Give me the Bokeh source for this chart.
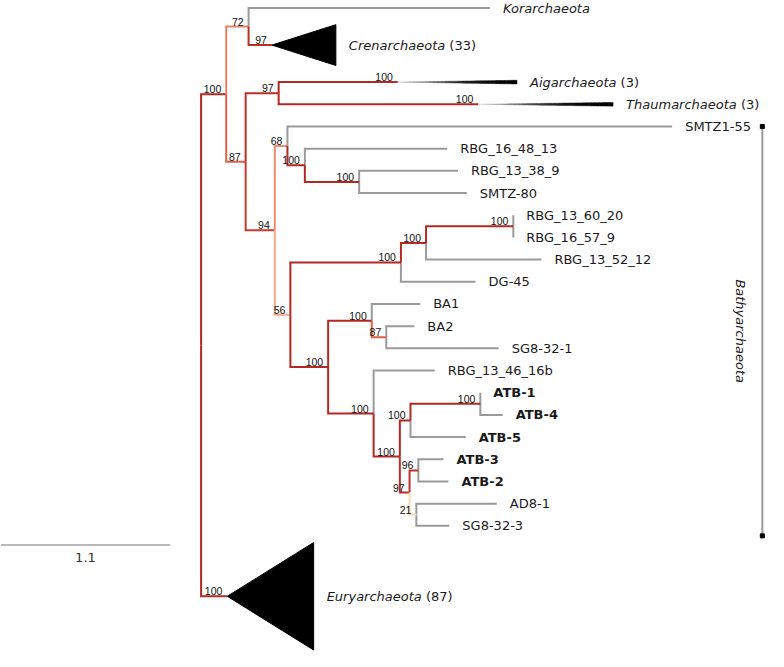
import numpy as np
from bokeh.plotting import figure
from bokeh.models import Range1d, ColumnDataSource
from bokeh.core.properties import value
from bokeh.embed import file_html
from bokeh.resources import INLINE

# ---------------- data: tree (children listed in drawing order) ----------------
node_names = ["root", "A", "Euryarchaeota", "N72", "Korarchaeota", "Crenarchaeota",
              "N87", "N97a", "Aigarchaeota", "Thaumarchaeota", "N94", "N68", "SMTZ1-55",
              "N100a", "RBG_16_48_13", "N100b", "RBG_13_38_9", "SMTZ-80", "N56", "N100c",
              "N100d", "N100e", "RBG_13_60_20", "RBG_16_57_9", "RBG_13_52_12", "DG-45",
              "N100f", "N100g", "BA1", "N87b", "BA2", "SG8-32-1", "N100h", "RBG_13_46_16b",
              "N100i", "N100j", "N100k", "ATB-1", "ATB-4", "ATB-5", "N97b", "N96", "ATB-3",
              "ATB-2", "N21", "AD8-1", "SG8-32-3"]
node_parents = [None, "root", "root", "A", "N72", "N72",
                "A", "N87", "N97a", "N97a", "N87", "N94", "N68",
                "N68", "N100a", "N100a", "N100b", "N100b", "N94", "N56",
                "N100c", "N100d", "N100e", "N100e", "N100d", "N100c",
                "N56", "N100f", "N100g", "N100g", "N87b", "N87b", "N100f", "N100h",
                "N100h", "N100i", "N100j", "N100k", "N100k", "N100j", "N100i", "N97b", "N96",
                "N96", "N97b", "N21", "N21"]
branch_lengths = [0.0, 0.163, 0.170, 0.145, 1.565, 0.151,
                  0.126, 0.214, 0.773, 1.295, 0.189, 0.082, 2.495,
                  0.113, 0.924, 0.352, 0.641, 0.698, 0.101, 0.717,
                  0.163, 0.566, 0.0, 0.0, 0.748, 0.484,
                  0.245, 0.283, 0.314, 0.094, 0.182, 0.729, 0.295, 0.396,
                  0.170, 0.069, 0.453, 0.0, 0.145, 0.358, 0.063, 0.057, 0.163,
                  0.195, 0.044, 0.522, 0.214]
node_support = [None, 100, 100, 72, None, 97,
                87, 97, 100, 100, 94, 68, None,
                100, None, 100, None, None, 56, 100,
                100, 100, None, None, None, None,
                100, 100, None, 87, None, None, 100, None,
                100, 100, 100, None, None, None, 97, 96, None,
                None, 21, None, None]

# collapsed clades
clade_names = ["Crenarchaeota", "Aigarchaeota", "Thaumarchaeota", "Euryarchaeota"]
clade_sizes = [33, 3, 3, 87]
clade_depths = [0.415, 0.773, 0.874, 0.560]

italic_leaves = ["Korarchaeota"]
bold_leaves = ["ATB-1", "ATB-2", "ATB-3", "ATB-4", "ATB-5"]
group_name = "Bathyarchaeota"
group_span = ["SMTZ1-55", "SG8-32-3"]
scale_length = 1.1

# ---------------- layout ----------------
children = {n: [] for n in node_names}
for n, par in zip(node_names, node_parents):
    if par is not None:
        children[par].append(n)
blen = dict(zip(node_names, branch_lengths))
supp = dict(zip(node_names, node_support))
clade_n = dict(zip(clade_names, clade_sizes))
clade_d = dict(zip(clade_names, clade_depths))

ROW_PER_TAXON = 0.0557


def slot(n):
    if n in clade_n:
        return max(1.0, clade_n[n] * ROW_PER_TAXON + 0.5)
    return 1.0


depth, row = {}, {}
cursor = [None, None]


def layout(n, d):
    depth[n] = d
    if children[n]:
        for c in children[n]:
            layout(c, d + blen[c])
        row[n] = (row[children[n][0]] + row[children[n][-1]]) / 2
    else:
        s = slot(n)
        row[n] = 0.0 if cursor[0] is None else cursor[0] + (cursor[1] + s) / 2
        cursor[0], cursor[1] = row[n], s


layout("root", 0.0)

anchor_s = [20, 56, 70, 87, 95, 100]
anchor_rgb = [(250, 220, 182), (245, 170, 130), (238, 136, 102), (220, 98, 74), (192, 54, 44), (178, 40, 34)]


def support_color(s):
    r = np.interp(s, anchor_s, [c[0] for c in anchor_rgb])
    g = np.interp(s, anchor_s, [c[1] for c in anchor_rgb])
    b = np.interp(s, anchor_s, [c[2] for c in anchor_rgb])
    return "#%02x%02x%02x" % (int(r), int(g), int(b))


GREY = "#9a9a9a"

# ---------------- figure ----------------
p = figure(width=768, height=651, x_range=Range1d(-1.301, 3.68), y_range=Range1d(29.0, -0.34),
           output_backend="svg", toolbar_location=None, x_axis_type=None, y_axis_type=None,
           min_border=0)
p.grid.visible = False
p.outline_line_color = None
p.background_fill_color = "white"

# branches
bx, by, bc = [], [], []
for n, par in zip(node_names, node_parents):
    if par is None:
        continue
    is_leaf = (not children[n]) and (n not in clade_n)
    bx.append([depth[par], depth[par], depth[n]])
    by.append([row[par], row[n], row[n]])
    bc.append(GREY if is_leaf else support_color(supp[n]))
order = sorted(range(len(bc)), key=lambda i: bc[i] != GREY)
p.multi_line(xs=[bx[i] for i in order], ys=[by[i] for i in order], line_color=[bc[i] for i in order],
             line_width=2, line_join="miter")

# collapsed clade triangles
for n in clade_names:
    x0, y0 = depth[n], row[n]
    x1 = x0 + clade_d[n]
    h = clade_n[n] * ROW_PER_TAXON / 2
    if clade_n[n] > 5:
        p.patch([x0, x1, x1], [y0, y0 - h, y0 + h], fill_color="black", line_color="black", line_width=1)
    else:
        k = 30
        xs, ys, cols = [], [], []
        for i in range(k):
            a, b = i / k, (i + 1) / k
            xa, xb = x0 + a * clade_d[n], x0 + b * clade_d[n]
            ha, hb = max(h * a, 0.012), max(h * b, 0.012)
            xs.append([xa, xb, xb, xa])
            ys.append([y0 - ha, y0 - hb, y0 + hb, y0 + ha])
            t = 1 - (1 - b) ** 2.2
            c = int(235 * (1 - t))
            cols.append("#%02x%02x%02x" % (c, c, c))
        p.patches(xs, ys, fill_color=cols, line_color=cols, line_width=0.5)

# ---------------- labels ----------------
FS = 13
W = {'a': .613, 'b': .635, 'c': .550, 'd': .635, 'e': .615, 'g': .635, 'h': .634, 'i': .278, 'k': .579,
     'l': .278, 'm': .974, 'n': .634, 'o': .612, 'p': .635, 'r': .411, 's': .521, 't': .392, 'u': .634,
     'y': .592, 'A': .684, 'C': .698, 'E': .632, 'K': .656, 'T': .611, ' ': .318}


def text_w(s, size):
    return sum(W.get(ch, 0.6) for ch in s) * size


FONT = value("DejaVu Sans")
leaves = [n for n in node_names if not children[n]]
normal_src = dict(x=[], y=[], t=[])
bold_src = dict(x=[], y=[], t=[])
ital_src = dict(x=[], y=[], t=[])
count_src = dict(x=[], y=[], t=[], off=[])
for n in leaves:
    xe = depth[n] + clade_d.get(n, 0.0)
    if n in clade_n:
        ital_src["x"].append(xe); ital_src["y"].append(row[n]); ital_src["t"].append(n)
        count_src["x"].append(xe); count_src["y"].append(row[n]); count_src["t"].append("(%d)" % clade_n[n])
        count_src["off"].append(13 + text_w(n + " ", FS))
    elif n in italic_leaves:
        ital_src["x"].append(xe); ital_src["y"].append(row[n]); ital_src["t"].append(n)
    elif n in bold_leaves:
        bold_src["x"].append(xe); bold_src["y"].append(row[n]); bold_src["t"].append(n)
    else:
        normal_src["x"].append(xe); normal_src["y"].append(row[n]); normal_src["t"].append(n)

common = dict(x="x", y="y", text="t", text_font=FONT, text_font_size="%.1fpx" % FS, text_baseline="middle",
              text_align="left", text_color="#1a1a1a")
p.text(source=ColumnDataSource(normal_src), x_offset=13, **common)
p.text(source=ColumnDataSource(bold_src), x_offset=13, text_font_style="bold", **common)
p.text(source=ColumnDataSource(ital_src), x_offset=13, text_font_style="italic", **common)
p.text(source=ColumnDataSource(count_src), x_offset="off", **common)

# support values
sx = [depth[n] for n in node_names if supp[n] is not None]
sy = [row[n] for n in node_names if supp[n] is not None]
st = [str(supp[n]) for n in node_names if supp[n] is not None]
p.text(x=sx, y=sy, text=st, x_offset=-5, y_offset=-1, text_font=value("Liberation Sans"),
       text_font_size="10.5px", text_align="right", text_baseline="bottom", text_color="#111111")

# Bathyarchaeota bracket
bxp = 3.64
yb0, yb1 = row[group_span[0]], row[group_span[1]] + 0.45
p.line([bxp, bxp], [yb0, yb1], line_color=GREY, line_width=2)
p.scatter([bxp, bxp], [yb0, yb1], marker="square", size=4, color="black")
p.text(x=[3.50], y=[(yb0 + yb1) / 2], text=[group_name], angle=-np.pi / 2, text_font=FONT,
       text_font_size="%.1fpx" % FS, text_font_style="italic", text_align="center", text_baseline="middle",
       text_color="#1a1a1a")

# scale bar
sb_x0, sb_y = -1.30, 24.2
p.line([sb_x0, sb_x0 + scale_length], [sb_y, sb_y], line_color="#777777", line_width=1.2)
p.text(x=[sb_x0 + scale_length / 2], y=[sb_y], text=[str(scale_length)], y_offset=8, text_font=FONT,
       text_font_size="%.1fpx" % FS, text_align="center", text_baseline="top", text_color="#333333")

open("out.html", "w").write(file_html(p, INLINE))
